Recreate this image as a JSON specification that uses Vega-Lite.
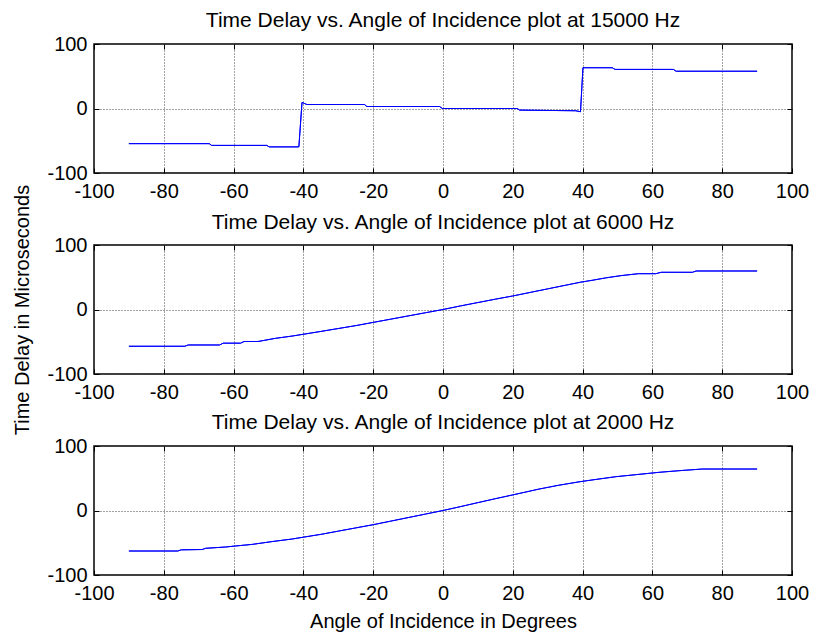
{
  "$schema": "https://vega.github.io/schema/vega-lite/v6.json",
  "background": "white",
  "padding": {"left": 12, "top": 9, "right": 16, "bottom": 1},
  "bounds": "flush",
  "spacing": 72,
  "config": {
    "font": "Liberation Sans",
    "view": {"stroke": "black", "strokeWidth": 1.5},
    "axis": {
      "labelFont": "Liberation Sans", "labelFontSize": 20, "labelColor": "black",
      "titleFont": "Liberation Sans", "titleFontSize": 20, "titleFontWeight": "normal", "titleColor": "black",
      "domain": false, "tickColor": "black", "tickSize": -5, "tickWidth": 1,
      "gridColor": "#444", "gridDash": [1, 2], "gridWidth": 1, "gridOpacity": 1,
      "labelFlush": false, "labelOverlap": false, "labelBound": false,
      "labelExpr": "'' + datum.value"
    },
    "title": {"font": "Liberation Sans", "fontSize": 21, "fontWeight": "normal", "color": "black", "baseline": "alphabetic", "offset": 3, "anchor": "middle", "frame": "group"}
  },
  "datasets": {
    "f15000": [
      {"angle": -90, "delay": -54.5}, {"angle": -67, "delay": -54.5}, {"angle": -66.3, "delay": -57.2},
      {"angle": -50.5, "delay": -57.2}, {"angle": -49.8, "delay": -59.5}, {"angle": -41.3, "delay": -59.5},
      {"angle": -40.4, "delay": 9.4}, {"angle": -39, "delay": 6.2}, {"angle": -22.5, "delay": 6.2},
      {"angle": -21.8, "delay": 3.1}, {"angle": -1, "delay": 3.1}, {"angle": -0.2, "delay": 0},
      {"angle": 21.2, "delay": 0}, {"angle": 22, "delay": -2.5}, {"angle": 38, "delay": -3.5},
      {"angle": 39.4, "delay": -5}, {"angle": 40.1, "delay": 63.2}, {"angle": 48.5, "delay": 63.2},
      {"angle": 49.3, "delay": 60.6}, {"angle": 66, "delay": 60.6}, {"angle": 66.8, "delay": 57.8},
      {"angle": 90, "delay": 57.8}
    ],
    "f6000": [
      {"angle": -90, "delay": -57}, {"angle": -74, "delay": -57}, {"angle": -73, "delay": -55},
      {"angle": -64, "delay": -55}, {"angle": -63, "delay": -52.2}, {"angle": -58, "delay": -52.2},
      {"angle": -57, "delay": -49.6}, {"angle": -53, "delay": -49.6}, {"angle": -48, "delay": -44.7},
      {"angle": -43, "delay": -41}, {"angle": -39, "delay": -37.5}, {"angle": -35, "delay": -34},
      {"angle": -30, "delay": -29.5}, {"angle": -25, "delay": -25}, {"angle": -20, "delay": -20},
      {"angle": -15, "delay": -15}, {"angle": -10, "delay": -10}, {"angle": -5, "delay": -5},
      {"angle": 0, "delay": 0}, {"angle": 5, "delay": 5.5}, {"angle": 10, "delay": 10.8},
      {"angle": 15, "delay": 16}, {"angle": 20, "delay": 21}, {"angle": 25, "delay": 26.5},
      {"angle": 30, "delay": 32}, {"angle": 35, "delay": 37.5}, {"angle": 39.3, "delay": 42.2},
      {"angle": 43, "delay": 45.5}, {"angle": 46.6, "delay": 49}, {"angle": 51, "delay": 52.5},
      {"angle": 56, "delay": 55.5}, {"angle": 61, "delay": 55.5}, {"angle": 62.5, "delay": 57.7},
      {"angle": 71.5, "delay": 57.7}, {"angle": 72.5, "delay": 59.7}, {"angle": 90, "delay": 59.7}
    ],
    "f2000": [
      {"angle": -90, "delay": -62.8}, {"angle": -76, "delay": -62.8}, {"angle": -75, "delay": -61},
      {"angle": -69, "delay": -60.5}, {"angle": -68, "delay": -58.6}, {"angle": -62.3, "delay": -56.6},
      {"angle": -59.4, "delay": -55}, {"angle": -54.6, "delay": -52.5}, {"angle": -49, "delay": -48.2},
      {"angle": -43.2, "delay": -44.2}, {"angle": -39, "delay": -40.5}, {"angle": -35, "delay": -37},
      {"angle": -30, "delay": -32}, {"angle": -25, "delay": -27}, {"angle": -20, "delay": -22},
      {"angle": -15, "delay": -16.5}, {"angle": -10, "delay": -11}, {"angle": -5, "delay": -5.5},
      {"angle": 0, "delay": 0}, {"angle": 5, "delay": 6}, {"angle": 10, "delay": 12.2},
      {"angle": 15, "delay": 18.3}, {"angle": 20, "delay": 24.2}, {"angle": 27.5, "delay": 33.2},
      {"angle": 33, "delay": 39}, {"angle": 39.3, "delay": 44.7}, {"angle": 42.7, "delay": 47.3},
      {"angle": 49.5, "delay": 52.4}, {"angle": 55.2, "delay": 55.5}, {"angle": 61.9, "delay": 59.2},
      {"angle": 67.6, "delay": 61.7}, {"angle": 74.3, "delay": 64.3}, {"angle": 90, "delay": 64.3}
    ]
  },
  "vconcat": [
    {
      "title": {"text": "Time Delay vs. Angle of Incidence plot at 15000 Hz"},
      "width": 698, "height": 129,
      "data": {"name": "f15000"},
      "resolve": {"axis": {"x": "independent", "y": "independent"}},
      "layer": [
        {
          "mark": {"type": "line", "color": "#0000ff", "strokeWidth": 1},
          "encoding": {
            "x": {"field": "angle", "type": "quantitative", "scale": {"domain": [-100, 100], "nice": false},
                  "axis": {"orient": "bottom", "values": [-100, -80, -60, -40, -20, 0, 20, 40, 60, 80, 100], "title": null, "labelPadding": 13}},
            "y": {"field": "delay", "type": "quantitative", "scale": {"domain": [-100, 100], "nice": false},
                  "axis": {"orient": "left", "values": [-100, 0, 100], "title": null, "labelPadding": 12}}
          }
        },
        {
          "mark": {"type": "line", "color": "#0000ff", "strokeWidth": 1},
          "encoding": {
            "x": {"field": "angle", "type": "quantitative", "axis": {"orient": "top", "values": [-100, -80, -60, -40, -20, 0, 20, 40, 60, 80, 100], "title": null, "labels": false, "grid": false}},
            "y": {"field": "delay", "type": "quantitative", "axis": {"orient": "right", "values": [-100, 0, 100], "title": null, "labels": false, "grid": false}}
          }
        }
      ]
    },
    {
      "title": {"text": "Time Delay vs. Angle of Incidence plot at 6000 Hz", "dy": 52},
      "width": 698, "height": 129,
      "data": {"name": "f6000"},
      "resolve": {"axis": {"x": "independent", "y": "independent"}},
      "layer": [
        {
          "mark": {"type": "line", "color": "#0000ff", "strokeWidth": 1},
          "encoding": {
            "x": {"field": "angle", "type": "quantitative", "scale": {"domain": [-100, 100], "nice": false},
                  "axis": {"orient": "bottom", "values": [-100, -80, -60, -40, -20, 0, 20, 40, 60, 80, 100], "title": null, "labelPadding": 13}},
            "y": {"field": "delay", "type": "quantitative", "scale": {"domain": [-100, 100], "nice": false},
                  "axis": {"orient": "left", "values": [-100, 0, 100], "title": "Time Delay in Microseconds", "labelPadding": 12, "titlePadding": 14}}
          }
        },
        {
          "mark": {"type": "line", "color": "#0000ff", "strokeWidth": 1},
          "encoding": {
            "x": {"field": "angle", "type": "quantitative", "axis": {"orient": "top", "values": [-100, -80, -60, -40, -20, 0, 20, 40, 60, 80, 100], "title": null, "labels": false, "grid": false}},
            "y": {"field": "delay", "type": "quantitative", "axis": {"orient": "right", "values": [-100, 0, 100], "title": null, "labels": false, "grid": false}}
          }
        }
      ]
    },
    {
      "title": {"text": "Time Delay vs. Angle of Incidence plot at 2000 Hz"},
      "width": 698, "height": 129,
      "data": {"name": "f2000"},
      "resolve": {"axis": {"x": "independent", "y": "independent"}},
      "layer": [
        {
          "mark": {"type": "line", "color": "#0000ff", "strokeWidth": 1},
          "encoding": {
            "x": {"field": "angle", "type": "quantitative", "scale": {"domain": [-100, 100], "nice": false},
                  "axis": {"orient": "bottom", "values": [-100, -80, -60, -40, -20, 0, 20, 40, 60, 80, 100], "title": "Angle of Incidence in Degrees", "labelPadding": 13, "titlePadding": 8}},
            "y": {"field": "delay", "type": "quantitative", "scale": {"domain": [-100, 100], "nice": false},
                  "axis": {"orient": "left", "values": [-100, 0, 100], "title": null, "labelPadding": 12}}
          }
        },
        {
          "mark": {"type": "line", "color": "#0000ff", "strokeWidth": 1},
          "encoding": {
            "x": {"field": "angle", "type": "quantitative", "axis": {"orient": "top", "values": [-100, -80, -60, -40, -20, 0, 20, 40, 60, 80, 100], "title": null, "labels": false, "grid": false}},
            "y": {"field": "delay", "type": "quantitative", "axis": {"orient": "right", "values": [-100, 0, 100], "title": null, "labels": false, "grid": false}}
          }
        }
      ]
    }
  ]
}
